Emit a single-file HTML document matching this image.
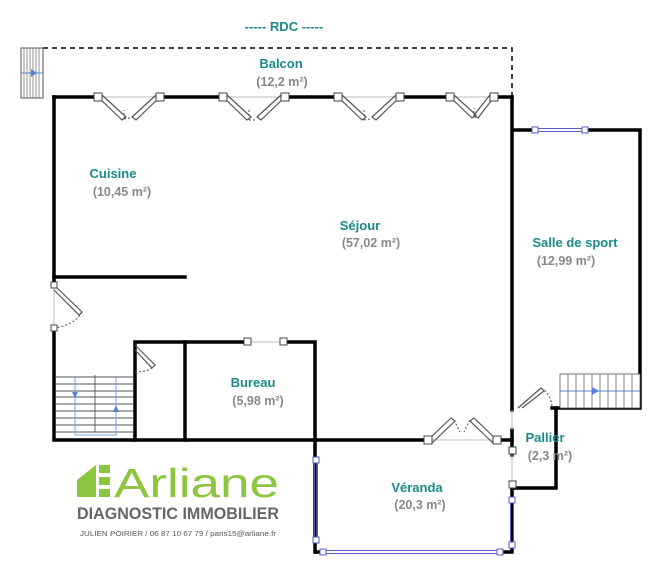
<!DOCTYPE html>
<html><head><meta charset="utf-8"><style>
body{margin:0;background:#fff;width:667px;height:581px;overflow:hidden;font-family:"Liberation Sans",sans-serif}
svg{display:block}
.t{fill:#1a8a8a;font-weight:bold;font-size:13px;text-anchor:middle}
.a{fill:#888;font-weight:bold;font-size:12.5px;text-anchor:middle}
</style></head><body>
<svg width="667" height="581" viewBox="0 0 667 581">
<text x="284" y="31" class="t">----- RDC -----</text>
<!-- balcony dashed -->
<path d="M43 48 H512 V97" fill="none" stroke="#000" stroke-width="1.5" stroke-dasharray="5,4"/>
<!-- top stair -->
<rect x="21" y="48" width="22" height="50" fill="#fff" stroke="#555" stroke-width="1"/>
<g stroke="#777" stroke-width="0.8"><path d="M24 48V98M27 48V98M30 48V98M33 48V98M36 48V98M39 48V98"/></g>
<path d="M21 73H43" stroke="#5a7fd6"/><path d="M31 69L37 73L31 77Z" fill="#5a7fd6"/>
<!-- walls -->
<g stroke="#000" stroke-width="3.5" fill="none" stroke-linecap="square">
<path d="M54 97H98M160 97H223M285 97H338M400 97H450M494 97H512"/>
<path d="M54 97V285M54 328V440H428M497 440H512"/>
<path d="M512 97V410M512 430V455M512 484V488H556V408H640V130H585M535 130H512"/>
<path d="M552 408H556"/>
<path d="M54 277H185"/>
<path d="M135 440V342H248M283 342H315V552"/>
<path d="M185 342V440"/>
<path d="M512 488V552H500M322 552H316"/>
</g>
<!-- windows top -->
<g stroke="#bbb" stroke-width="1"><path d="M98 97H160M223 97H285M338 97H400M450 97H494M248 342H283M54 285V328M428 440H497M512 410V430M512 455V484"/></g>
<g fill="none" stroke="#555" stroke-width="1.2">
<path d="M98 97L122 120L126 117L102 95M160 97L136 120L132 117L156 95"/>
<path d="M223 97L247 120L251 117L227 95M285 97L261 120L257 117L281 95"/>
<path d="M338 97L362 120L366 117L342 95M400 97L376 120L372 117L396 95"/>
<path d="M450 97L472 118L476 115L454 95M494 97L478 118L474 115L490 95"/>
<path d="M428 440L451 418L455 421L432 443M497 440L474 418L470 421L493 443"/>
<path d="M54 285L82 312L79 315L54 290"/>
<path d="M135 345L155 365L152 368L135 350"/>
<path d="M518 408L541 388L544 391L522 408"/>
</g>
<g fill="none" stroke="#555" stroke-width="1" stroke-dasharray="2,2">
<path d="M124 119L130 118M124 119V110"/><path d="M249 120L255 120M249 120V110"/><path d="M364 120L370 119M364 120V110"/><path d="M474 117L476 117M474 117V108"/>
<path d="M454 420L460 432M470 420L464 432"/>
<path d="M82 312Q75 325 54 328"/><path d="M155 365Q150 372 135 372"/><path d="M541 388Q552 395 552 408"/>
</g>
<g fill="#fff" stroke="#444" stroke-width="1">
<rect x="94" y="93" width="8" height="8"/><rect x="156" y="93" width="8" height="8"/>
<rect x="219" y="93" width="8" height="8"/><rect x="281" y="93" width="8" height="8"/>
<rect x="334" y="93" width="8" height="8"/><rect x="396" y="93" width="8" height="8"/>
<rect x="446" y="93" width="8" height="8"/><rect x="490" y="93" width="8" height="8"/>
<rect x="424" y="436" width="8" height="8"/><rect x="493" y="436" width="8" height="8"/>
<rect x="244" y="338" width="7" height="7"/><rect x="280" y="338" width="7" height="7"/>
<rect x="51" y="282" width="6" height="6"/><rect x="51" y="325" width="6" height="6"/>
<rect x="509" y="447" width="7" height="7"/><rect x="509" y="481" width="7" height="7"/>
</g>
<!-- sport window -->
<path d="M535 128.5H585M535 131.5H585" stroke="#5a5ac8" stroke-width="1"/>
<rect x="532" y="127" width="6" height="6" fill="#fff" stroke="#5a5ac8"/><rect x="582" y="127" width="6" height="6" fill="#fff" stroke="#5a5ac8"/>
<!-- veranda blue -->
<g stroke="#5a5ac8" stroke-width="1" fill="none">
<path d="M314.5 460V540M317.5 460V540M322 550.5H500M322 553.5H500M510.5 500V545M513.5 500V545"/>
</g>
<g fill="#fff" stroke="#5a5ac8" stroke-width="1">
<rect x="313" y="457" width="6" height="6"/><rect x="313" y="537" width="6" height="6"/>
<rect x="320" y="549" width="6" height="6"/><rect x="497" y="549" width="6" height="6"/>
<rect x="509" y="497" width="6" height="6"/><rect x="509" y="542" width="6" height="6"/>
</g>
<!-- bottom-left stair -->
<g stroke="#555" stroke-width="0.9"><path d="M56 377H133M56 384H133M56 391H133M56 397H133M56 404H133M56 411H133M56 418H133M56 425H133M56 432H133M95 375V432"/></g>
<path d="M75 377V435H116V377" fill="none" stroke="#7aa0e0"/><path d="M72 392L75 398L78 392Z" fill="#5a7fd6"/><path d="M113 412L116 405L119 412Z" fill="#5a7fd6"/>
<!-- right stair -->
<rect x="560" y="374" width="80" height="34" fill="#fff" stroke="#555" stroke-width="0.8"/>
<g stroke="#666" stroke-width="0.8"><path d="M568 374V408M576 374V408M584 374V408M592 374V408M600 374V408M608 374V408M616 374V408M624 374V408M632 374V408"/></g>
<path d="M560 391H640" stroke="#5a7fd6"/><path d="M592 387L599 391L592 395Z" fill="#5a7fd6"/>
<!-- labels -->
<text x="281" y="68" class="t">Balcon</text><text x="282" y="86" class="a">(12,2 m²)</text>
<text x="113" y="178" class="t">Cuisine</text><text x="122" y="196" class="a">(10,45 m²)</text>
<text x="360" y="230" class="t">Séjour</text><text x="371" y="247" class="a">(57,02 m²)</text>
<text x="575" y="247" class="t">Salle de sport</text><text x="566" y="265" class="a">(12,99 m²)</text>
<text x="253" y="387" class="t">Bureau</text><text x="258" y="405" class="a">(5,98 m²)</text>
<text x="545" y="442" class="t">Pallier</text><text x="550" y="460" class="a">(2,3 m²)</text>
<text x="417" y="492" class="t">Véranda</text><text x="420" y="509" class="a">(20,3 m²)</text>
<!-- logo -->
<path d="M77 497V480L96 465V497Z" fill="#8cc63f"/>
<rect x="99" y="465" width="11" height="8" fill="#8cc63f"/><rect x="99" y="477" width="11" height="8" fill="#8cc63f"/><rect x="99" y="489" width="11" height="8" fill="#8cc63f"/>
<text x="114" y="497" font-size="41" fill="#8cc63f" textLength="165" lengthAdjust="spacingAndGlyphs">Arliane</text>
<text x="77" y="519" font-size="17" font-weight="bold" fill="#666" textLength="202" lengthAdjust="spacingAndGlyphs">DIAGNOSTIC IMMOBILIER</text>
<text x="80" y="536" font-size="7.5" fill="#555" textLength="196" lengthAdjust="spacingAndGlyphs">JULIEN POIRIER / 06 87 10 67 79 / paris15@arliane.fr</text>
</svg>
</body></html>
